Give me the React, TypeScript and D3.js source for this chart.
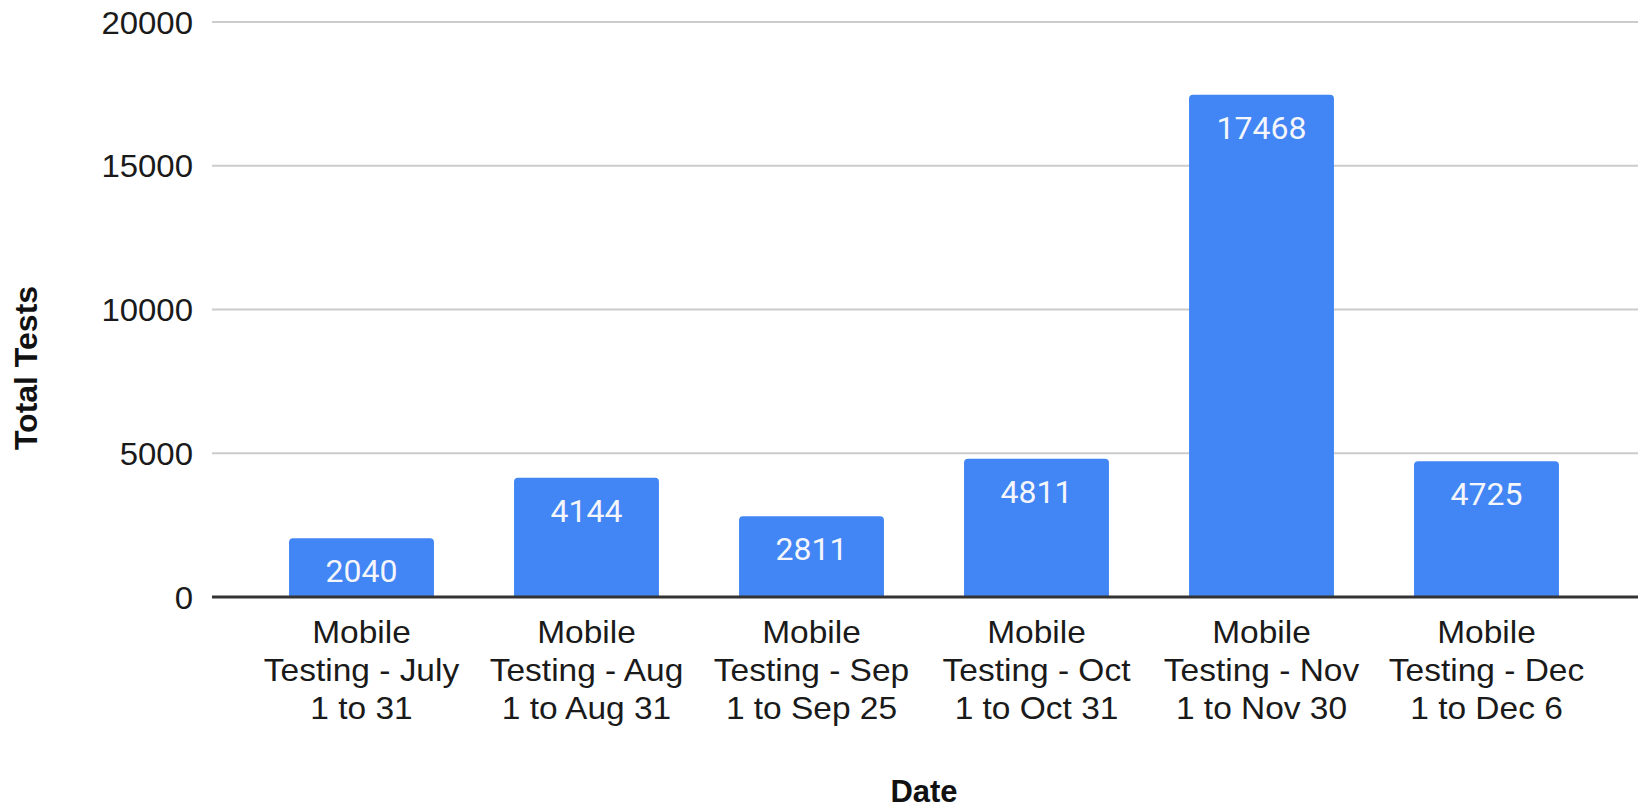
import { useRef, useEffect } from 'react';
import * as d3 from 'd3';

const categories = [
    'Mobile\nTesting - July\n1 to 31',
    'Mobile\nTesting - Aug\n1 to Aug 31',
    'Mobile\nTesting - Sep\n1 to Sep 25',
    'Mobile\nTesting - Oct\n1 to Oct 31',
    'Mobile\nTesting - Nov\n1 to Nov 30',
    'Mobile\nTesting - Dec\n1 to Dec 6',
];
const totalTests = [2040, 4144, 2811, 4811, 17468, 4725];
const yTicks = [0, 5000, 10000, 15000, 20000];

const W = 1643;
const H = 810;
const FONT = 'Liberation Sans, Arial, sans-serif';

const App = () => {
    const ref = useRef<SVGSVGElement>(null);

    useEffect(() => {
        const svg = d3.select(ref.current);
        svg.selectAll('*').remove();

        const data = categories.map((c, i) => ({ label: c, value: totalTests[i] }));

        const x = d3.scaleBand()
            .domain(categories)
            .range([249, 1599])
            .paddingInner(0.356)
            .paddingOuter(0.178);

        const y = d3.scaleLinear()
            .domain([0, 20000])
            .range([597, 22]);

        const gridLeft = 212;
        const gridRight = 1638;

        // gridlines
        svg.append('g')
            .selectAll('line')
            .data(yTicks.filter(t => t > 0))
            .enter().append('line')
            .attr('x1', gridLeft)
            .attr('x2', gridRight)
            .attr('y1', d => y(d))
            .attr('y2', d => y(d))
            .attr('stroke', '#cccccc')
            .attr('stroke-width', 2);

        // y tick labels
        svg.append('g')
            .selectAll('text')
            .data(yTicks)
            .enter().append('text')
            .attr('transform', d => `translate(193,${y(d)}) scale(1.03,1)`)
            .attr('dy', '0.36em')
            .attr('text-anchor', 'end')
            .attr('font-family', FONT)
            .attr('font-size', 32)
            .attr('fill', '#1a1a1a')
            .text(d => d);

        // bars, rounded top corners
        const r = 4;
        svg.append('g')
            .selectAll('path')
            .data(data)
            .enter().append('path')
            .attr('fill', '#4285f4')
            .attr('d', d => {
                const x0 = x(d.label)!;
                const x1 = x0 + x.bandwidth();
                const yt = y(d.value);
                const yb = y(0);
                return `M${x0},${yb}V${yt + r}Q${x0},${yt} ${x0 + r},${yt}H${x1 - r}Q${x1},${yt} ${x1},${yt + r}V${yb}Z`;
            });

        // value labels
        svg.append('g')
            .selectAll('text')
            .data(data)
            .enter().append('text')
            .attr('x', d => x(d.label)! + x.bandwidth() / 2)
            .attr('y', d => y(d.value) + 44)
            .attr('text-anchor', 'middle')
            .attr('font-family', 'Roboto, sans-serif')
            .attr('font-size', 32)
            .attr('fill', '#f4f6fb')
            .text(d => d.value);

        // baseline
        svg.append('line')
            .attr('x1', gridLeft)
            .attr('x2', gridRight)
            .attr('y1', y(0))
            .attr('y2', y(0))
            .attr('stroke', '#333')
            .attr('stroke-width', 3);

        // category labels (slightly wide, like the source)
        const cat = svg.append('g')
            .selectAll('text')
            .data(categories)
            .enter().append('text')
            .attr('transform', d => `translate(${x(d)! + x.bandwidth() / 2},0) scale(1.08,1)`)
            .attr('text-anchor', 'middle')
            .attr('font-family', FONT)
            .attr('font-size', 31)
            .attr('fill', '#1a1a1a');
        cat.each(function (d) {
            const t = d3.select(this);
            d.split('\n').forEach((line, i) => {
                t.append('tspan')
                    .attr('x', 0)
                    .attr('y', 643 + i * 38)
                    .text(line);
            });
        });

        // axis titles
        svg.append('text')
            .attr('x', 924)
            .attr('y', 802)
            .attr('text-anchor', 'middle')
            .attr('font-family', FONT)
            .attr('font-weight', 'bold')
            .attr('font-size', 31)
            .attr('fill', '#111')
            .text('Date');

        svg.append('text')
            .attr('transform', 'translate(37,368) rotate(-90)')
            .attr('text-anchor', 'middle')
            .attr('font-family', FONT)
            .attr('font-weight', 'bold')
            .attr('font-size', 32)
            .attr('fill', '#111')
            .text('Total Tests');
    }, []);

    return (
        <svg
            ref={ref}
            width={W}
            height={H}
            style={{ position: 'absolute', left: 0, top: 0, background: '#fff' }}
        ></svg>
    );
};

export default App;
